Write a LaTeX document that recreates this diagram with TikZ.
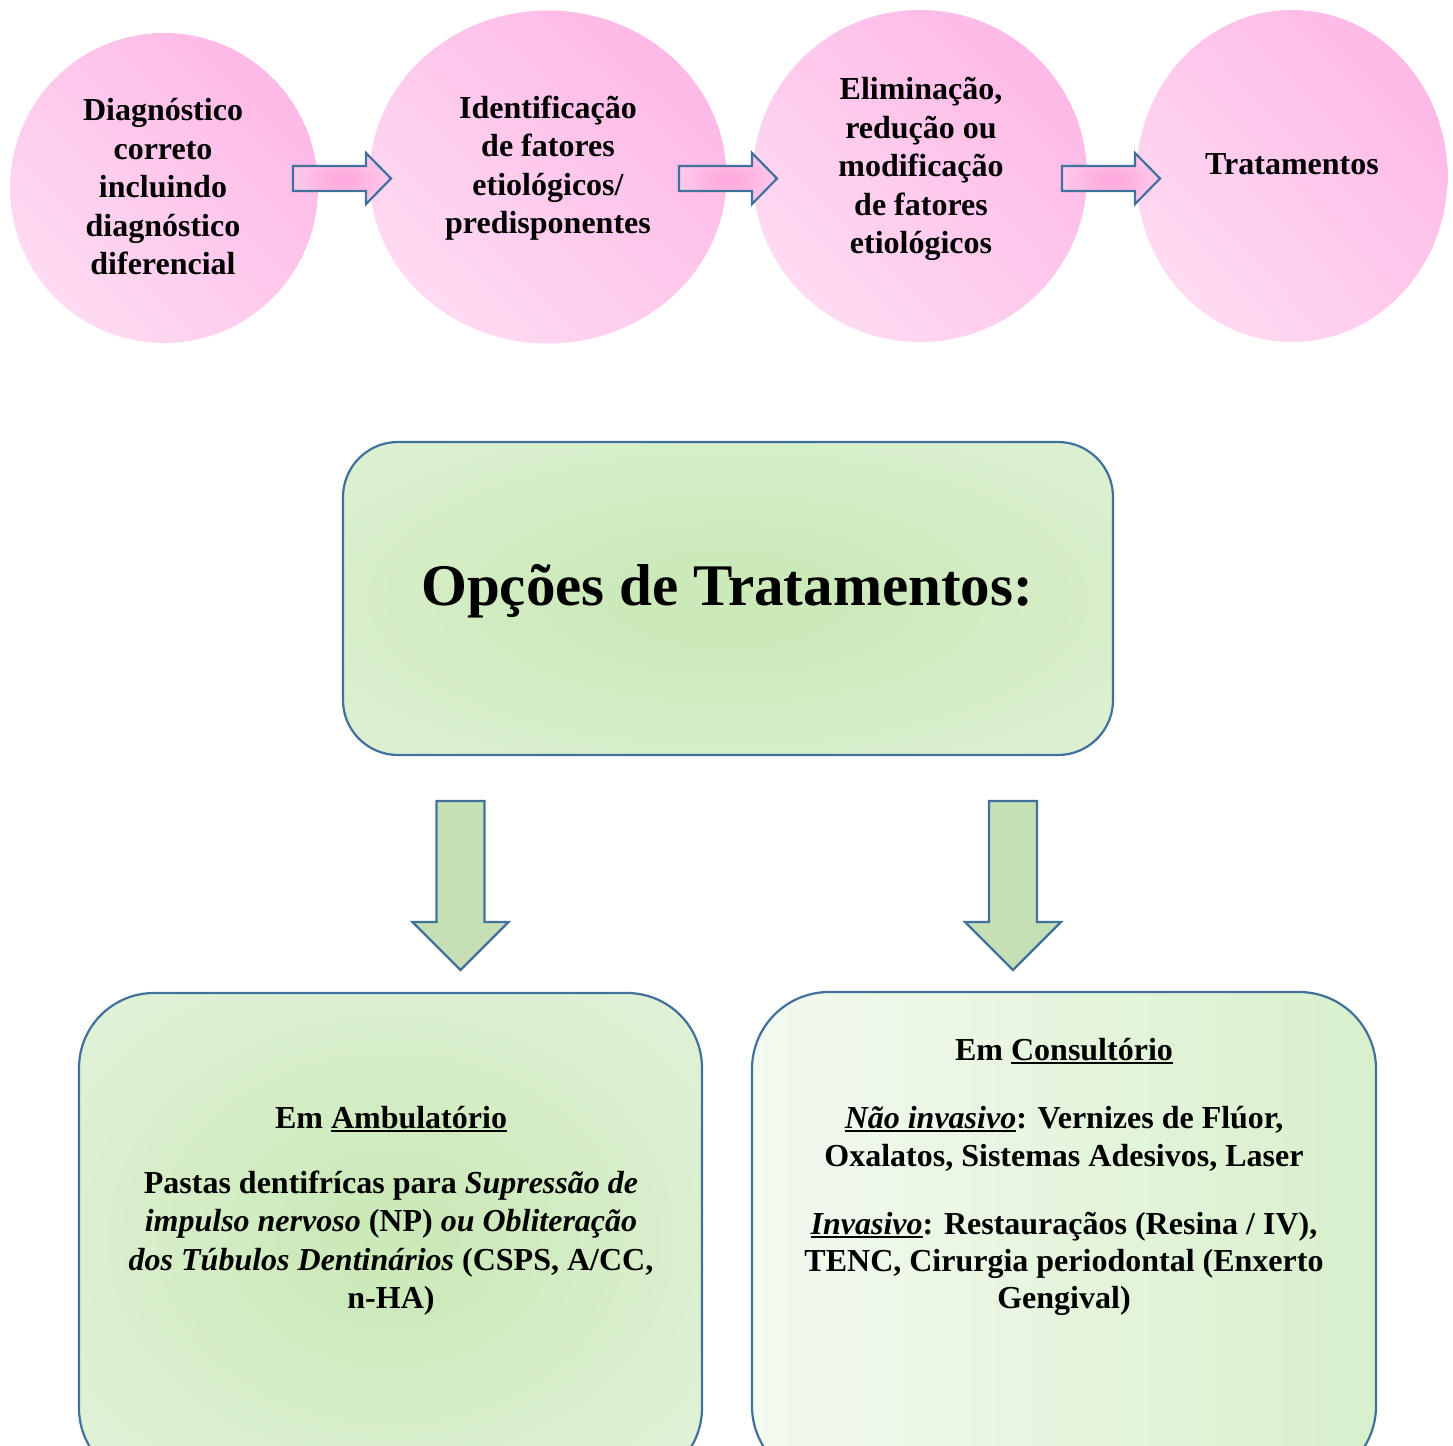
\documentclass[tikz,border=0pt]{standalone}
\usepackage{fontspec}
\setmainfont{Liberation Serif}
\usetikzlibrary{shapes.geometric,shadings}
\definecolor{pkL}{HTML}{FFE2F4}
\definecolor{pkD}{HTML}{FDB2E5}
\definecolor{pkM}{HTML}{FEC9EC}
\definecolor{arC}{HTML}{FFA9DE}
\definecolor{arE}{HTML}{FFE8F6}
\definecolor{bord}{HTML}{41719C}
\definecolor{grC}{HTML}{CBE9B9}
\definecolor{grE}{HTML}{EFF8EB}
\definecolor{grL}{HTML}{F3FAF0}
\definecolor{grR}{HTML}{D8F0CB}
\definecolor{grA}{HTML}{C5E0B4}
\pgfdeclareradialshading{pinkrad}{\pgfpoint{0bp}{0bp}}{color(0bp)=(arC); color(4bp)=(arC); color(45bp)=(arE); color(100bp)=(arE)}
\pgfdeclareradialshading{greenrad}{\pgfpoint{0bp}{0bp}}{color(0bp)=(grC); color(6bp)=(grC); color(62bp)=(grE); color(100bp)=(grE)}
\pgfdeclareradialshading{greenradb}{\pgfpoint{0bp}{0bp}}{color(0bp)=(grC); color(4bp)=(grC); color(52bp)=(grE); color(100bp)=(grE)}
\newcommand{\myul}[1]{\setbox0\hbox{#1}\rlap{\rule[-3.5pt]{\wd0}{2pt}}\box0}
\newcommand{\rarrowat}[2]{%
  \shadedraw[arrowbox, shading=pinkrad] (#1,#2-12.5) -- ++(73,0) -- ++(0,-13) -- (#1+98,#2)
    -- (#1+73,#2+25.5) -- ++(0,-13) -- (#1,#2+12.5) -- cycle;}
\newcommand{\darrowat}[2]{%
  \filldraw[arrowbox, fill=grA] (#1-24,#2) -- (#1+24,#2) -- (#1+24,#2+121) -- (#1+48,#2+121)
    -- (#1,#2+169) -- (#1-48,#2+121) -- (#1-24,#2+121) -- cycle;}
\tikzset{
  circ/.style={ellipse, draw=none, inner sep=0pt,
    upper right=pkD, lower left=pkL, upper left=pkM, lower right=pkM},
  ctext/.style={align=center, inner sep=0pt, font=\fontsize{32}{38.5}\selectfont\bfseries},
  arrowbox/.style={draw=bord, line width=2.2pt, line join=miter},
  gbox/.style={rectangle, draw=bord, line width=2.2pt, inner sep=0pt},
  btext/.style={align=center, inner sep=0pt, font=\fontsize{32}{38.5}\selectfont\bfseries},
  btextr/.style={align=center, inner sep=0pt, font=\fontsize{32}{37.3}\selectfont\bfseries},
}
\begin{document}
\begin{tikzpicture}[x=1pt,y=-1pt]
\useasboundingbox (0,0) rectangle (1453,1445);
\clip (0,0) rectangle (1453,1445);
\fill[white] (0,0) rectangle (1453,1445);
% circles
\node[circ, minimum width=308pt, minimum height=310pt] (c1) at (164,188) {};
\node[circ, minimum width=357pt, minimum height=333pt] (c2) at (548,177) {};
\node[circ, minimum width=334pt, minimum height=332pt] (c3) at (920,176) {};
\node[circ, minimum width=311pt, minimum height=332pt] (c4) at (1292,176) {};
\node[ctext] (t1) at (163,187) {Diagnóstico\\correto\\incluindo\\diagnóstico\\diferencial};
\node[ctext] (t2) at (548,168) {Identificação\\de fatores\\etiológicos/\\predisponentes};
\node[ctext] (t3) at (921,169) {Eliminação,\\redução ou\\modificação\\de fatores\\etiológicos};
\node[ctext] (t4) at (1292,164) {Tratamentos};
% right block arrows
\rarrowat{293}{178.5}
\rarrowat{679}{178.5}
\rarrowat{1062}{178.5}
% main box
\node[gbox, rounded corners=55pt, minimum width=770pt, minimum height=313pt, shading=greenrad] (main) at (728,598.5) {};
\node[inner sep=0pt, anchor=base, font=\fontsize{59}{61}\selectfont\bfseries] (title) at (727,605) {Opções de Tratamentos:};
% down block arrows
\darrowat{460.5}{801}
\darrowat{1013}{801}
% bottom boxes
\node[gbox, rounded corners=75pt, minimum width=623pt, minimum height=490pt, shading=greenradb] (bl) at (390.5,1238) {};
\node[gbox, rounded corners=77pt, minimum width=624pt, minimum height=491pt, left color=grL, right color=grR] (br) at (1064,1237.5) {};
\node[btext, anchor=north] (blt) at (391,1106) {Em \myul{Ambulatório}\\[26.5pt]
Pastas dentifrícas para \textit{Supressão de}\\
\textit{impulso nervoso} (NP) \textit{ou Obliteração}\\
\textit{dos Túbulos Dentinários} (CSPS, A/CC,\\
n-HA)};
\node[btextr, anchor=north] (brt) at (1064,1038) {Em \myul{Consultório}\\[31pt]
\myul{\textit{Não invasivo}}: Vernizes de Flúor,\\
Oxalatos, Sistemas Adesivos, Laser\\[31pt]
\myul{\textit{Invasivo}}: Restauraçãos (Resina / IV),\\
TENC, Cirurgia periodontal (Enxerto\\
Gengival)};
\end{tikzpicture}
\end{document}
